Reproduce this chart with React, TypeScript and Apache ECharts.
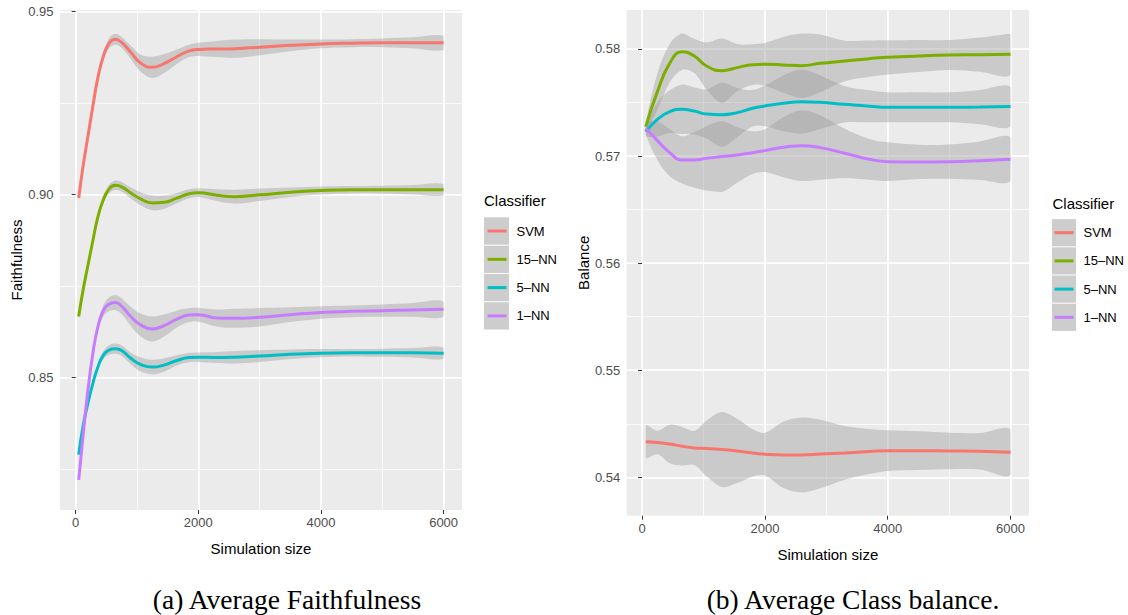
import React, { useEffect, useRef } from 'react';
import * as echarts from 'echarts';

// ---------- data ----------
const classifiers = ['SVM', '15–NN', '5–NN', '1–NN'];
const palette = ['#F8766D', '#7CAE00', '#00BFC4', '#C77CFF'];

const xTickValues = [0, 2000, 4000, 6000];
const yTicksFaith = [0.85, 0.9, 0.95];
const yTicksBal = [0.54, 0.55, 0.56, 0.57, 0.58];

// Panel (a): Average faithfulness (smoothed mean and half-width of the ribbon)
const simSizeA = [50, 120, 200, 280, 360, 450, 550, 650, 750, 900, 1050, 1250, 1450, 1650, 1850, 2000, 2300, 2600, 3000, 3500, 4000, 4500, 5000, 5500, 6000];
const faithSVM = [0.899, 0.9076, 0.9158, 0.924, 0.9317, 0.9376, 0.9414, 0.9424, 0.9415, 0.9388, 0.936, 0.9347, 0.9358, 0.9376, 0.9392, 0.9396, 0.9397, 0.9398, 0.9402, 0.9407, 0.9411, 0.9413, 0.9414, 0.9414, 0.9414];
const faithSVMse = [0.0005, 0.0007, 0.0008, 0.0009, 0.001, 0.0012, 0.0014, 0.0015, 0.0015, 0.0018, 0.0023, 0.0029, 0.0026, 0.002, 0.0017, 0.0018, 0.0022, 0.0025, 0.0022, 0.0016, 0.0012, 0.0011, 0.0012, 0.0015, 0.0019];
const faith15NN = [0.8667, 0.8738, 0.8806, 0.8873, 0.8937, 0.8985, 0.9016, 0.9025, 0.9021, 0.9004, 0.8989, 0.8977, 0.8979, 0.899, 0.9002, 0.9005, 0.8998, 0.8994, 0.8999, 0.9006, 0.9011, 0.9013, 0.9013, 0.9013, 0.9013];
const faith15NNse = [0.0004, 0.0005, 0.0006, 0.0007, 0.0008, 0.001, 0.0012, 0.0013, 0.0013, 0.0015, 0.0018, 0.002, 0.0018, 0.0014, 0.0012, 0.0012, 0.0016, 0.0019, 0.0017, 0.0013, 0.0011, 0.001, 0.0011, 0.0013, 0.0015];
const faith5NN = [0.829, 0.8367, 0.843, 0.8484, 0.8528, 0.8561, 0.8576, 0.8579, 0.8574, 0.8553, 0.8537, 0.8529, 0.8535, 0.8547, 0.8555, 0.8556, 0.8555, 0.8556, 0.8559, 0.8564, 0.8567, 0.8568, 0.8568, 0.8568, 0.8567];
const faith5NNse = [0.0005, 0.0006, 0.0007, 0.0008, 0.0009, 0.0011, 0.0013, 0.0014, 0.0014, 0.0016, 0.0019, 0.002, 0.0018, 0.0014, 0.0013, 0.0013, 0.0015, 0.0017, 0.0016, 0.0013, 0.0011, 0.001, 0.0011, 0.0013, 0.0015];
const faith1NN = [0.8221, 0.834, 0.8465, 0.8565, 0.8637, 0.8682, 0.8701, 0.8705, 0.8695, 0.8667, 0.8645, 0.8633, 0.8643, 0.866, 0.8671, 0.8672, 0.8663, 0.8662, 0.8665, 0.8672, 0.8678, 0.8681, 0.8683, 0.8685, 0.8687];
const faith1NNse = [0.0006, 0.0008, 0.0009, 0.001, 0.0012, 0.0015, 0.0019, 0.0021, 0.0022, 0.0026, 0.0031, 0.0034, 0.003, 0.0023, 0.0019, 0.0019, 0.0023, 0.0026, 0.0025, 0.002, 0.0017, 0.0016, 0.0017, 0.0019, 0.0021];

// Panel (b): Average class balance
const simSizeB = [60, 250, 450, 650, 850, 1050, 1300, 1550, 1800, 2000, 2300, 2600, 2900, 3300, 3700, 4000, 4500, 5000, 5500, 6000];
const balSVM = [0.54333, 0.54325, 0.54311, 0.5429, 0.54274, 0.54269, 0.5426, 0.54246, 0.54228, 0.54216, 0.54209, 0.54209, 0.54218, 0.54228, 0.5424, 0.54249, 0.54249, 0.54246, 0.54243, 0.54233];
const balSVMse = [0.0015, 0.0011, 0.0018, 0.0018, 0.0016, 0.0026, 0.0035, 0.003, 0.0022, 0.002, 0.0031, 0.0035, 0.0032, 0.0025, 0.0021, 0.0019, 0.0018, 0.0017, 0.0017, 0.0021];
const bal15NN = [0.57275, 0.57602, 0.57866, 0.57975, 0.57935, 0.57841, 0.57798, 0.57826, 0.57854, 0.57857, 0.57851, 0.57844, 0.57866, 0.57888, 0.5791, 0.57922, 0.57935, 0.57944, 0.57947, 0.5795];
const bal15NNse = [0.0004, 0.0017, 0.0018, 0.0017, 0.0016, 0.0022, 0.003, 0.0022, 0.0019, 0.002, 0.0026, 0.003, 0.0027, 0.0019, 0.0017, 0.0016, 0.0015, 0.0014, 0.0016, 0.0019];
const bal5NN = [0.57228, 0.57343, 0.57415, 0.57437, 0.57421, 0.57393, 0.57387, 0.57406, 0.57446, 0.57468, 0.57493, 0.57508, 0.57502, 0.57483, 0.57465, 0.57455, 0.57455, 0.57455, 0.57458, 0.57462];
const bal5NNse = [0.0004, 0.0016, 0.002, 0.0023, 0.0022, 0.0023, 0.003, 0.0023, 0.0017, 0.0019, 0.0026, 0.003, 0.0025, 0.0017, 0.0015, 0.0014, 0.0014, 0.0014, 0.0016, 0.0018];
const bal1NN = [0.57259, 0.57144, 0.57032, 0.56964, 0.56964, 0.56979, 0.56995, 0.5701, 0.57032, 0.57051, 0.57082, 0.57097, 0.57079, 0.57026, 0.5697, 0.56948, 0.56945, 0.56948, 0.56957, 0.5697];
const bal1NNse = [0.0005, 0.0018, 0.0022, 0.0022, 0.0026, 0.003, 0.0033, 0.0026, 0.002, 0.002, 0.0028, 0.0033, 0.003, 0.0023, 0.0019, 0.0018, 0.0016, 0.0016, 0.0018, 0.002];

const captionA = '(a) Average Faithfulness';
const captionB = '(b) Average Class balance.';

// ---------- helpers ----------
const SANS = '"Liberation Sans", Arial, Helvetica, sans-serif';
const SERIF = '"Liberation Serif", "Times New Roman", serif';

function makeSeries(panel: number, xs: number[], means: number[][], ses: number[][]) {
  const idx = panel * 3;
  const out: any[] = [];
  means.forEach((m, k) => {
    const se = ses[k];
    out.push({
      type: 'custom', name: classifiers[k] + ' ribbon', xAxisIndex: idx, yAxisIndex: idx,
      data: xs.map((x, i) => [x, m[i] - se[i], m[i] + se[i]]),
      encode: { x: 0, y: [1, 2] },
      silent: true, z: 1, clip: true,
      renderItem: (params: any, api: any) => {
        if (params.dataIndex !== 0) return null;
        const upper = xs.map((x, i) => api.coord([x, m[i] + se[i]]));
        const lower = xs.map((x, i) => api.coord([x, m[i] - se[i]])).reverse();
        const pts = upper.concat(lower);
        const minP = [Infinity, Infinity];
        const maxP = [-Infinity, -Infinity];
        pts.forEach((p: number[]) => {
          minP[0] = Math.min(minP[0], p[0]); minP[1] = Math.min(minP[1], p[1]);
          maxP[0] = Math.max(maxP[0], p[0]); maxP[1] = Math.max(maxP[1], p[1]);
        });
        return {
          type: 'polygon',
          shape: { points: pts, smooth: 0.35, smoothConstraint: [minP, maxP] },
          style: { fill: '#999999', opacity: 0.4 },
        };
      },
    });
  });
  means.forEach((m, k) => {
    out.push({
      type: 'line', name: classifiers[k], xAxisIndex: idx, yAxisIndex: idx,
      data: xs.map((x, i) => [x, m[i]]), smooth: 0.5, symbol: 'none',
      lineStyle: { width: 3, color: palette[k] }, itemStyle: { color: palette[k] }, z: 3,
    });
  });
  return out;
}

const hidden = { axisLine: { show: false }, axisTick: { show: false }, axisLabel: { show: false } };

function xAxes(grid: number, min: number, max: number) {
  return [
    { // major grid lines
      gridIndex: grid, type: 'value', min, max, position: 'bottom', minInterval: 2000, maxInterval: 2000, ...hidden,
      splitLine: { show: true, showMinLine: false, showMaxLine: false, lineStyle: { color: '#FFFFFF', width: 1.6 } },
    },
    { // minor grid lines
      gridIndex: grid, type: 'value', min, max, position: 'bottom', minInterval: 1000, maxInterval: 1000, ...hidden,
      splitLine: { show: true, showMinLine: false, showMaxLine: false, lineStyle: { color: '#FFFFFF', width: 0.8 } },
    },
    { // ticks + labels + title
      gridIndex: grid, type: 'value', min, max, position: 'bottom',
      axisLine: { show: false },
      axisTick: { show: true, length: 4, lineStyle: { color: '#333333', width: 1 }, customValues: xTickValues },
      axisLabel: { customValues: xTickValues, color: '#4D4D4D', fontSize: 13, fontFamily: SANS, margin: 6, formatter: (v: number) => String(v) },
      splitLine: { show: false },
      name: 'Simulation size', nameLocation: 'middle', nameGap: 31,
      nameTextStyle: { color: '#000000', fontSize: 15, fontFamily: SANS },
    },
  ];
}
function yAxes(grid: number, min: number, max: number, major: number, ticks: number[], name: string) {
  return [
    {
      gridIndex: grid, type: 'value', min, max, position: 'left', minInterval: major, maxInterval: major, ...hidden,
      splitLine: { show: true, showMinLine: false, showMaxLine: false, lineStyle: { color: '#FFFFFF', width: 1.6 } },
    },
    {
      gridIndex: grid, type: 'value', min, max, position: 'left', minInterval: major / 2, maxInterval: major / 2, ...hidden,
      splitLine: { show: true, showMinLine: false, showMaxLine: false, lineStyle: { color: '#FFFFFF', width: 0.8 } },
    },
    {
      gridIndex: grid, type: 'value', min, max, position: 'left',
      axisLine: { show: false },
      axisTick: { show: true, length: 4, lineStyle: { color: '#333333', width: 1 }, customValues: ticks },
      axisLabel: { customValues: ticks, color: '#4D4D4D', fontSize: 13, fontFamily: SANS, margin: 6.5, formatter: (v: number) => v.toFixed(2) },
      splitLine: { show: false },
      name, nameLocation: 'middle', nameGap: 35.5,
      nameTextStyle: { color: '#000000', fontSize: 15, fontFamily: SANS },
    },
  ];
}

function legendKeys(x: number, w: number, firstCenter: number, step: number) {
  return classifiers.map((_, i) => ({
    type: 'rect', z: 0,
    shape: { x, y: firstCenter + i * step - (step - 1) / 2, width: w, height: step - 1 },
    style: { fill: '#CDCDCD' },
  }));
}

export default function App() {
  const ref = useRef<HTMLDivElement>(null);
  useEffect(() => {
    if (!ref.current) return;
    const chart = echarts.init(ref.current, undefined, { renderer: 'svg' });
    const rowStepA = 28.3;
    const rowStepB = 28.2;
    const option: any = {
      animation: false,
      backgroundColor: '#FFFFFF',
      grid: [
        { left: 60, top: 10, width: 402, height: 500, show: true, backgroundColor: '#EBEBEB', borderWidth: 0, containLabel: false },
        { left: 626.7, top: 10, width: 402.3, height: 505.7, show: true, backgroundColor: '#EBEBEB', borderWidth: 0, containLabel: false },
      ],
      xAxis: [...xAxes(0, -255, 6300), ...xAxes(1, -250, 6300)],
      yAxis: [
        ...yAxes(0, 0.81389, 0.95035, 0.05, yTicksFaith, 'Faithfulness'),
        ...yAxes(1, 0.536414, 0.583642, 0.01, yTicksBal, 'Balance'),
      ],
      legend: [
        {
          data: classifiers, orient: 'vertical', left: 487.5, top: 231 - rowStepA / 2, padding: 0, itemGap: 0,
          icon: 'rect', itemWidth: 19, itemHeight: 3, selectedMode: false,
          textStyle: { fontSize: 13, color: '#000000', fontFamily: SANS, lineHeight: rowStepA, padding: [0, 0, 0, 5] },
        },
        {
          data: classifiers, orient: 'vertical', left: 1054.5, top: 232.7 - rowStepB / 2, padding: 0, itemGap: 0,
          icon: 'rect', itemWidth: 19, itemHeight: 3, selectedMode: false,
          textStyle: { fontSize: 13, color: '#000000', fontFamily: SANS, lineHeight: rowStepB, padding: [0, 0, 0, 5] },
        },
      ],
      graphic: [
        ...legendKeys(484, 25, 231, rowStepA),
        ...legendKeys(1052, 24, 232.7, rowStepB),
        { type: 'text', z: 5, x: 484, y: 200, style: { text: 'Classifier', fill: '#000000', font: `15px ${SANS}`, verticalAlign: 'middle', align: 'left' } },
        { type: 'text', z: 5, x: 1052.5, y: 203, style: { text: 'Classifier', fill: '#000000', font: `15px ${SANS}`, verticalAlign: 'middle', align: 'left' } },
        { type: 'text', z: 5, x: 287, y: 599, style: { text: captionA, fill: '#000000', font: `27.5px ${SERIF}`, verticalAlign: 'middle', align: 'center' } },
        { type: 'text', z: 5, x: 853, y: 599, style: { text: captionB, fill: '#000000', font: `27.5px ${SERIF}`, verticalAlign: 'middle', align: 'center' } },
      ],
      series: [
        ...makeSeries(0, simSizeA, [faithSVM, faith15NN, faith5NN, faith1NN], [faithSVMse, faith15NNse, faith5NNse, faith1NNse]),
        ...makeSeries(1, simSizeB, [balSVM, bal15NN, bal5NN, bal1NN], [balSVMse, bal15NNse, bal5NNse, bal1NNse]),
      ],
    };
    chart.setOption(option);
    return () => chart.dispose();
  }, []);
  return <div ref={ref} style={{ position: 'absolute', left: 0, top: 0, width: 1128, height: 615 }} />;
}
